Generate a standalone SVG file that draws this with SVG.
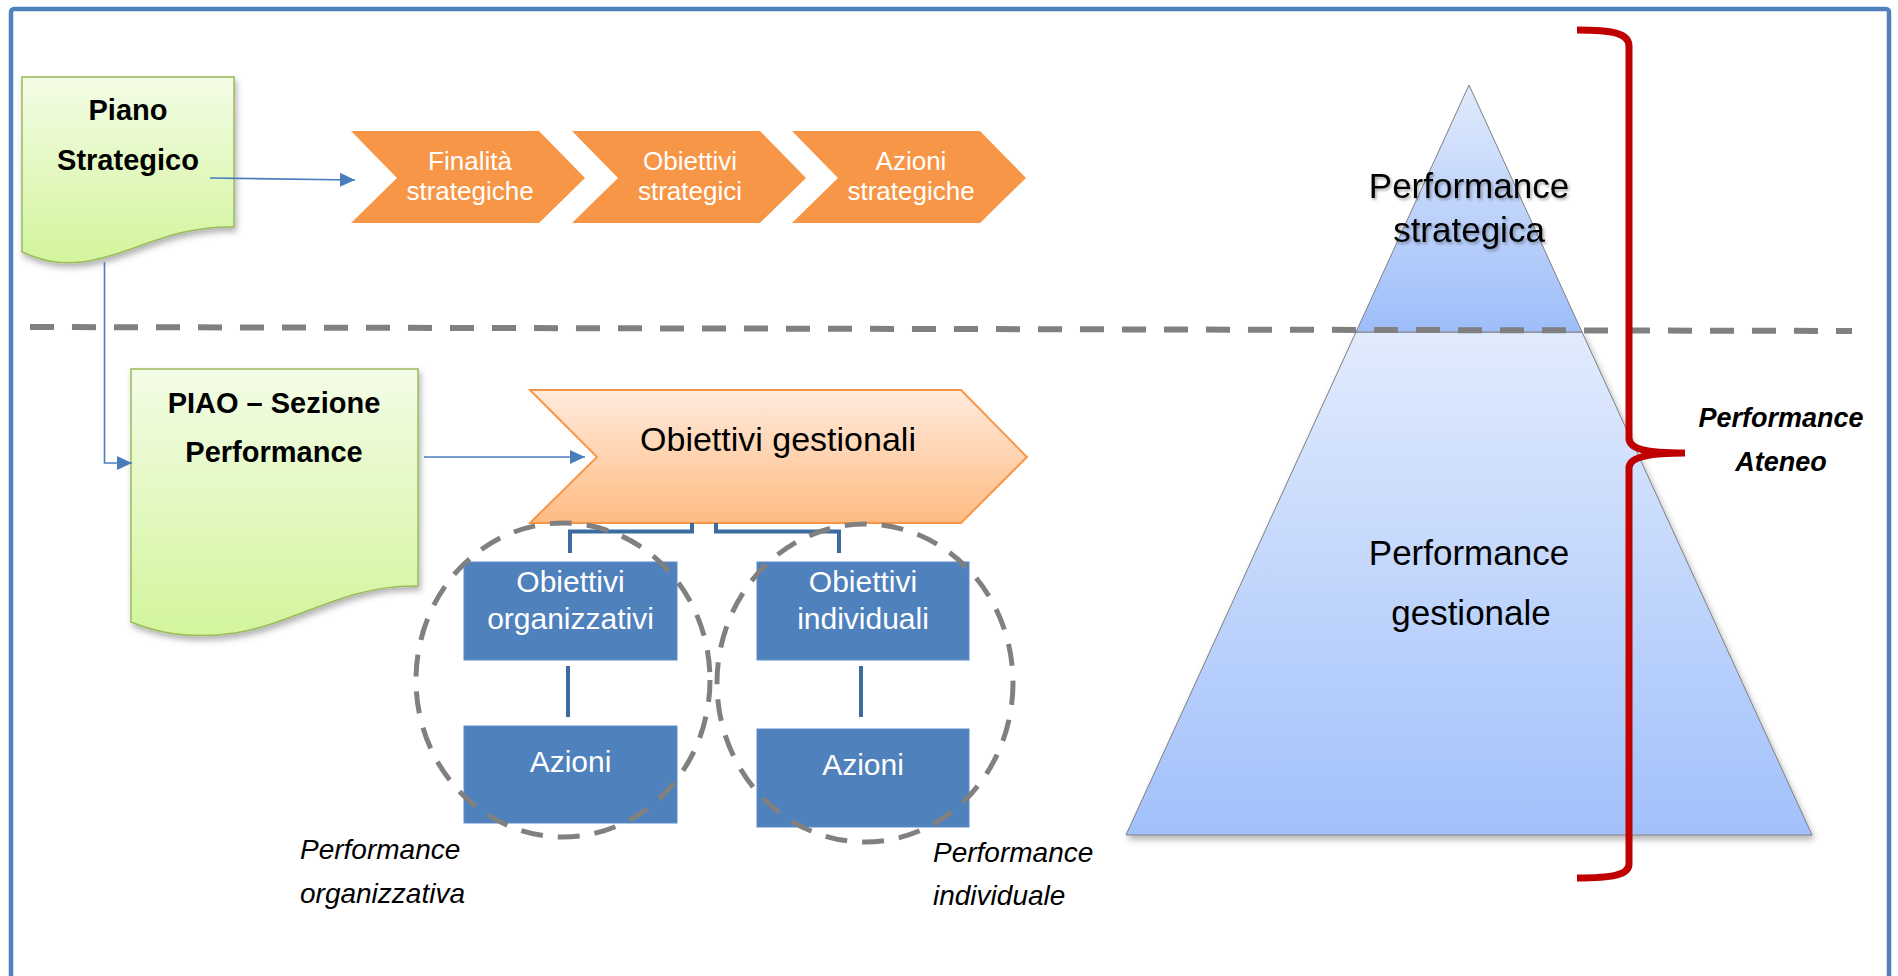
<svg xmlns="http://www.w3.org/2000/svg" width="1898" height="976" viewBox="0 0 1898 976">
<style>
.t{font-family:"Liberation Sans",Arial,sans-serif;text-anchor:middle}
.b{font-weight:bold;font-size:29px;fill:#000}
.w{fill:#fff}
.chev{fill:#F79646}
.box{fill:#4F81BD;stroke:#5D8CC6;stroke-width:1}
.conn{fill:none;stroke:#4A7EBB;stroke-width:1.6}
.br{fill:none;stroke:#3C6BA0;stroke-width:4}
.circ{fill:none;stroke:#808080;stroke-width:5;stroke-dasharray:22 15}
.lbl{font-family:"Liberation Sans",Arial,sans-serif;font-style:italic;font-size:28px;fill:#000}
.pt{font-size:35px;fill:#000}
</style>
<defs>
<linearGradient id="gdoc" x1="0" y1="0" x2="0" y2="1"><stop offset="0" stop-color="#F3FCE6"/><stop offset="1" stop-color="#D3F59C"/></linearGradient>
<linearGradient id="ggest" x1="0" y1="0" x2="0" y2="1"><stop offset="0" stop-color="#FFEBDD"/><stop offset="1" stop-color="#FFBB82"/></linearGradient>
<linearGradient id="gtop" x1="0" y1="0" x2="0" y2="1"><stop offset="0" stop-color="#E0EAFC"/><stop offset="1" stop-color="#9EBEFA"/></linearGradient>
<linearGradient id="gbot" x1="0" y1="0" x2="0" y2="1"><stop offset="0" stop-color="#E1EBFD"/><stop offset="1" stop-color="#A2C1FB"/></linearGradient>
<filter id="sh" x="-10%" y="-10%" width="130%" height="130%"><feDropShadow dx="2" dy="4" stdDeviation="3" flood-color="#000" flood-opacity="0.3"/></filter>
<filter id="tsh" x="-10%" y="-20%" width="130%" height="150%"><feDropShadow dx="1.5" dy="2" stdDeviation="1.5" flood-color="#000" flood-opacity="0.35"/></filter>
<marker id="ah" markerWidth="15" markerHeight="14" refX="15" refY="7" orient="auto" markerUnits="userSpaceOnUse"><path d="M0,0 L15,7 L0,14 Z" fill="#4A7EBB"/></marker>
</defs>
<rect x="11" y="9" width="1878" height="1000" rx="3" fill="#fff" stroke="#4F81BD" stroke-width="4.5"/>

<g id="pyramid">
<polygon points="1356,332 1582,332 1812,835 1126,835" fill="url(#gbot)" stroke="#7F7F7F" stroke-width="1" filter="url(#sh)"/>
<polygon points="1469,85 1582,332 1356,332" fill="url(#gtop)" stroke="#7F7F7F" stroke-width="1"/>
<text class="t pt" x="1469" y="198" filter="url(#tsh)">Performance</text>
<text class="t pt" x="1469" y="242" filter="url(#tsh)">strategica</text>
<text class="t pt" x="1469" y="565">Performance</text>
<text class="t pt" x="1471" y="625">gestionale</text>
</g>

<line id="separator" x1="30" y1="327" x2="1852" y2="331" stroke="#808080" stroke-width="6" stroke-dasharray="24 18"/>

<g id="piano-strategico">
<path d="M22,77 L234,77 L234,227 C170,225 130,256 82,262 C55,265 38,259 22,252 Z" fill="url(#gdoc)" stroke="#9BBB59" stroke-width="1.5" filter="url(#sh)"/>
<text class="t b" x="128" y="120">Piano</text>
<text class="t b" x="128" y="170">Strategico</text>
</g>

<g id="finalita">
<polygon class="chev" points="351,131 539,131 585,178 539,223 351,223 397,178"/>
<text class="t w" font-size="26" x="470" y="170">Finalità</text>
<text class="t w" font-size="26" x="470" y="200">strategiche</text>
</g>
<g id="obiettivi-strategici">
<polygon class="chev" points="572,131 760,131 806,178 760,223 572,223 618,178"/>
<text class="t w" font-size="26" x="690" y="170">Obiettivi</text>
<text class="t w" font-size="26" x="690" y="200">strategici</text>
</g>
<g id="azioni-strategiche">
<polygon class="chev" points="792,131 980,131 1026,178 980,223 792,223 838,178"/>
<text class="t w" font-size="26" x="911" y="170">Azioni</text>
<text class="t w" font-size="26" x="911" y="200">strategiche</text>
</g>

<g id="piao">
<path d="M131,369 L418,369 L418,586 C345,584 295,624 235,633 C195,639 160,634 131,622 Z" fill="url(#gdoc)" stroke="#9BBB59" stroke-width="1.5" filter="url(#sh)"/>
<text class="t b" x="274" y="413">PIAO – Sezione</text>
<text class="t b" x="274" y="462">Performance</text>
</g>

<g id="obiettivi-gestionali">
<polygon points="530,390 961,390 1027,457 961,523 530,523 597,457" fill="url(#ggest)" stroke="#F79646" stroke-width="2"/>
<text class="t" font-size="34" fill="#000" x="778" y="451">Obiettivi gestionali</text>
</g>

<g id="obiettivi-organizzativi">
<rect class="box" x="464" y="562" width="213" height="98"/>
<text class="t w" font-size="30" x="570.5" y="592">Obiettivi</text>
<text class="t w" font-size="30" x="570.5" y="629">organizzativi</text>
</g>
<g id="azioni-org">
<rect class="box" x="464" y="726" width="213" height="97"/>
<text class="t w" font-size="30" x="570.5" y="772">Azioni</text>
</g>
<g id="obiettivi-individuali">
<rect class="box" x="757" y="562" width="212" height="98"/>
<text class="t w" font-size="30" x="863" y="592">Obiettivi</text>
<text class="t w" font-size="30" x="863" y="629">individuali</text>
</g>
<g id="azioni-ind">
<rect class="box" x="757" y="729" width="212" height="98"/>
<text class="t w" font-size="30" x="863" y="775">Azioni</text>
</g>

<g id="connectors">
<polyline class="conn" points="210,178 355,180" marker-end="url(#ah)"/>
<polyline class="conn" points="104.5,262 104.5,463 132,463" marker-end="url(#ah)"/>
<polyline class="conn" points="424,457 585,457" marker-end="url(#ah)"/>
<polyline class="br" points="570,553 570,531.5 692,531.5 692,523"/>
<polyline class="br" points="716,523 716,531.5 839,531.5 839,553"/>
<line class="br" x1="568" y1="666" x2="568" y2="717"/>
<line class="br" x1="861" y1="666" x2="861" y2="717"/>
</g>

<g id="perf-organizzativa">
<ellipse class="circ" cx="563" cy="680" rx="147" ry="157"/>
<text class="lbl" x="300" y="859">Performance</text>
<text class="lbl" x="300" y="903">organizzativa</text>
</g>
<g id="perf-individuale">
<ellipse class="circ" cx="865" cy="683" rx="148" ry="159"/>
<text class="lbl" x="933" y="862">Performance</text>
<text class="lbl" x="933" y="905">individuale</text>
</g>

<g id="performance-ateneo">
<path d="M1577,30 C1612,30 1629,33 1629,46 L1629,438 C1629,449 1645,453 1685,453 M1685,453 C1645,453 1629,458 1629,468 L1629,864 C1629,875 1612,878 1577,878" fill="none" stroke="#C00000" stroke-width="7"/>
<text class="t" font-weight="bold" font-style="italic" font-size="27" fill="#000" x="1781" y="427">Performance</text>
<text class="t" font-weight="bold" font-style="italic" font-size="27" fill="#000" x="1781" y="471">Ateneo</text>
</g>
</svg>
